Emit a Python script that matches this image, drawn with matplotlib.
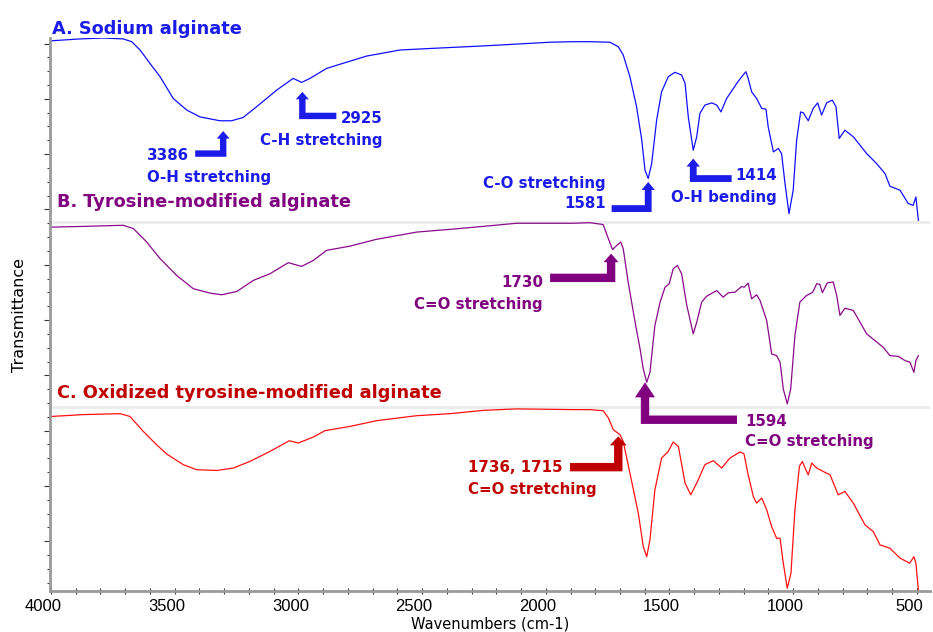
"""
FTIR spectra of sodium alginate, tyrosine-modified alginate and the oxidized
tyrosine-modified alginate, stacked in three bands.
"""
import matplotlib
matplotlib.use('Agg')
import matplotlib.pyplot as plt
import matplotlib.transforms as mtransforms
from matplotlib.patches import Polygon
import numpy as np

# ---- data (transmittance in % of each band) ----
wn_a = [3997, 3883, 3789, 3708, 3674, 3640, 3600, 3559, 3506, 3451, 3398, 3317,
        3270, 3223, 3169, 3088, 3021, 2987, 2953, 2886, 2819, 2724, 2589, 2455,
        2253, 2118, 1983, 1891, 1821, 1741, 1707, 1687, 1660, 1633, 1612, 1599,
        1586, 1572, 1552, 1532, 1505, 1478, 1451, 1437, 1424, 1404, 1390, 1377,
        1357, 1329, 1309, 1292, 1269, 1228, 1208, 1191, 1182, 1168, 1148, 1127,
        1110, 1101, 1080, 1060, 1047, 1033, 1017, 1000, 986, 970, 959, 939, 919,
        901, 885, 865, 842, 827, 814, 791, 757, 703, 663, 629, 609, 568, 535, 515,
        504, 494]
t_a = [98.5, 99.5, 100.0, 99.5, 98.0, 93.5, 86.2, 79.0, 67.2, 60.9, 57.2, 55.1,
       55.1, 56.9, 62.7, 71.7, 78.1, 75.9, 78.1, 83.5, 86.3, 90.2, 93.5, 94.4,
       95.7, 96.7, 97.7, 98.0, 98.0, 97.7, 95.3, 90.8, 79.0, 62.7, 44.6, 28.3,
       23.8, 31.9, 55.4, 70.8, 79.0, 81.4, 79.9, 75.4, 57.2, 39.1, 46.4, 59.1,
       63.6, 64.8, 63.6, 59.9, 67.2, 75.4, 79.0, 81.7, 78.1, 70.8, 67.2, 61.8,
       61.4, 51.8, 38.2, 40.1, 37.3, 21.0, 4.7, 17.4, 44.6, 59.9, 59.4, 55.1, 61.8,
       64.8, 58.2, 64.8, 66.3, 62.7, 45.5, 50.0, 46.4, 37.3, 31.9, 26.5, 19.6, 17.4,
       10.2, 9.2, 13.8, 1.1]

wn_b = [3997, 3869, 3708, 3667, 3613, 3559, 3492, 3425, 3357, 3310, 3249, 3182,
        3115, 3041, 2987, 2940, 2886, 2791, 2684, 2522, 2387, 2253, 2118, 1891,
        1821, 1768, 1747, 1730, 1713, 1697, 1687, 1667, 1639, 1619, 1606, 1592,
        1579, 1559, 1538, 1518, 1501, 1485, 1468, 1451, 1430, 1404, 1390, 1370,
        1350, 1309, 1283, 1262, 1235, 1208, 1198, 1182, 1168, 1148, 1134, 1107,
        1087, 1067, 1053, 1040, 1024, 1010, 993, 973, 946, 921, 905, 892, 882, 862,
        838, 824, 811, 791, 757, 703, 636, 609, 575, 548, 528, 512, 504, 494]
t_b = [97.4, 97.8, 98.4, 96.6, 89.3, 80.3, 71.2, 64.0, 61.6, 60.7, 62.5, 68.5,
       72.1, 78.1, 76.1, 79.3, 84.8, 87.1, 90.8, 94.7, 96.2, 97.8, 99.5, 99.5,
       99.8, 98.8, 91.1, 85.2, 87.5, 89.3, 85.7, 67.6, 45.8, 31.4, 20.5, 13.2,
       18.6, 44.0, 56.7, 64.8, 66.7, 74.8, 76.6, 72.1, 54.9, 39.5, 45.8, 56.7,
       59.9, 63.0, 59.4, 61.8, 62.1, 65.2, 64.8, 67.0, 58.5, 60.7, 57.6, 46.7,
       28.6, 27.7, 24.1, 9.6, 1.5, 9.6, 38.6, 56.7, 60.3, 62.1, 66.7, 66.3, 61.8, 67.2,
       67.6, 60.3, 49.5, 53.4, 52.2, 39.5, 32.2, 27.7, 27.3, 25.0, 24.1, 18.6, 25.0, 27.7]

wn_c = [3997, 3869, 3721, 3681, 3627, 3573, 3532, 3465, 3411, 3330, 3263, 3196,
        3115, 3037, 3000, 2940, 2892, 2791, 2684, 2522, 2387, 2253, 2118, 1891,
        1821, 1768, 1747, 1727, 1700, 1687, 1660, 1626, 1606, 1592, 1579, 1559,
        1532, 1505, 1485, 1464, 1437, 1414, 1390, 1357, 1323, 1289, 1256, 1215,
        1199, 1182, 1161, 1148, 1127, 1107, 1087, 1067, 1053, 1040, 1024, 1009, 993,
        975, 963, 952, 939, 925, 905, 878, 851, 818, 791, 757, 710, 676, 649, 609,
        568, 529, 512, 504, 494]
t_c = [94.7, 95.7, 96.2, 94.7, 86.6, 79.3, 74.3, 68.5, 65.8, 65.4, 66.7, 70.3,
       75.7, 81.5, 80.3, 83.5, 87.0, 89.3, 92.4, 95.1, 96.2, 98.0, 98.8, 98.4,
       98.4, 97.8, 93.9, 87.5, 84.8, 81.1, 64.0, 42.2, 24.1, 18.6, 27.7, 54.9,
       72.1, 75.7, 80.8, 78.4, 58.5, 52.2, 58.5, 68.5, 70.7, 66.7, 72.1, 75.4,
       74.5, 63.0, 51.2, 47.7, 50.4, 44.0, 34.9, 28.6, 28.6, 15.1, 1.5, 9.6, 44.0,
       67.6, 70.3, 66.7, 63.0, 69.4, 66.7, 64.8, 63.0, 52.2, 54.0, 47.7, 35.9, 32.2,
       25.0, 23.2, 17.8, 15.1, 18.6, 15.1, 0.5]

names = ['A. Sodium alginate', 'B. Tyrosine-modified alginate',
         'C. Oxidized tyrosine-modified alginate']
line_colors = ['#1010ff', '#8a0a8a', '#ff1010']
text_colors = ['#1c1ce8', '#800080', '#c00000']
offsets = [200, 100, 0]

# annotations: band, tip wavenumber, tip T, shaft length px, bar end px,
# shaft half width px, head half width px, head height px
arrows = [
    (0, 3304, 49.5, 25.7, -28, 3.2, 6.5, 7.5),
    (0, 2984, 70.8, 27.3, 34, 3.2, 6.5, 7.5),
    (0, 1586, 21.9, 30.0, -36.6, 3.4, 6.7, 8),
    (0, 1404, 34.6, 23.4, 38.4, 3.4, 6.7, 8),
    (1, 1736, 83.0, 28.4, -61, 4.2, 7.5, 8.5),
    (1, 1599, 13.2, 41.6, 92, 4.2, 10, 15),
    (2, 1707, 83.9, 35.0, -48.3, 4.2, 8.5, 9),
]
# label lines: band, wavenumber, T, text, alignment
labels = [
    (0, 3612, 36.4, '3386', 'left'),
    (0, 3612, 24.5, 'O-H stretching', 'left'),
    (0, 2658, 56.5, '2925', 'right'),
    (0, 2658, 44.6, 'C-H stretching', 'right'),
    (0, 1757, 21.2, 'C-O stretching', 'right'),
    (0, 1757, 10.3, '1581', 'right'),
    (0, 1065, 25.5, '1414', 'right'),
    (0, 1065, 13.6, 'O-H bending', 'right'),
    (1, 2011, 67.4, '1730', 'right'),
    (1, 2011, 55.4, 'C=O stretching', 'right'),
    (1, 1195, -8.2, '1594', 'left'),
    (1, 1195, -19.0, 'C=O stretching', 'left'),
    (2, 2314, 66.8, '1736, 1715', 'left'),
    (2, 2314, 54.9, 'C=O stretching', 'left'),
]


def l_arrow(ax, x, y, length, bar, sw, hw, hh, color):
    """Thick L-shaped arrow, tip at (x, y); sizes in pixels."""
    if bar < 0:
        pts = [(0, 0), (hw, hh), (sw, hh), (sw, length), (bar, length),
               (bar, length - 2 * sw), (-sw, length - 2 * sw), (-sw, hh), (-hw, hh)]
    else:
        pts = [(0, 0), (hw, hh), (sw, hh), (sw, length - 2 * sw),
               (bar, length - 2 * sw), (bar, length), (-sw, length), (-sw, hh), (-hw, hh)]
    dpi = ax.figure.dpi
    verts = [(px / dpi, -py / dpi) for px, py in pts]
    trans = ax.figure.dpi_scale_trans + mtransforms.ScaledTranslation(x, y, ax.transData)
    ax.add_patch(Polygon(verts, closed=True, transform=trans, facecolor=color,
                         edgecolor='none', clip_on=False, zorder=5))


fig = plt.figure(figsize=(9.33, 6.32), dpi=100)
ax = fig.add_axes([50 / 933, 41 / 632, 880 / 933, 553 / 632])

for wn, t, off, c in zip([wn_a, wn_b, wn_c], [t_a, t_b, t_c], offsets, line_colors):
    ax.plot(wn, np.array(t) + off, color=c, linewidth=0.9)

for sep in [100, 200]:
    ax.axhline(sep, color='#ebebeb', linewidth=2, zorder=0)

ax.set_xlim(4004, 447)
ax.set_ylim(0, 300)

title_font = dict(family=['DejaVu Sans'], fontweight='bold')
ax.text(3996, 302.2, names[0], color=text_colors[0], fontsize=12.8,
        va='baseline', ha='left', clip_on=False, **title_font)
ax.text(3976, 208.2, names[1], color=text_colors[1], fontsize=12.8,
        va='baseline', ha='left', **title_font)
ax.text(3976, 104.9, names[2], color=text_colors[2], fontsize=12.8,
        va='baseline', ha='left', **title_font)

for band, x, y, length, bar, sw, hw, hh in arrows:
    l_arrow(ax, x, y + offsets[band], length, bar, sw, hw, hh, text_colors[band])

for band, x, y, txt, align in labels:
    ax.text(x, y + offsets[band], txt, color=text_colors[band], fontsize=10.8,
            ha=align, va='center', zorder=6, **title_font)

# axes styling
for side in ['top', 'right']:
    ax.spines[side].set_visible(False)
for side in ['left', 'bottom']:
    ax.spines[side].set_color('#9a9a9a')
    ax.spines[side].set_linewidth(2)

ax.set_xticks([4000, 3500, 3000, 2500, 2000, 1500, 1000, 500])
ax.set_xticks(np.arange(500, 4001, 100), minor=True)
ax.tick_params(axis='x', which='both', direction='inout', length=4, width=0.8,
               color='#333333', labelsize=12)
shift = mtransforms.ScaledTranslation(-8 / 100, 0, fig.dpi_scale_trans)
for lab in ax.get_xticklabels():
    lab.set_fontfamily(['Liberation Sans', 'DejaVu Sans'])
    lab.set_transform(lab.get_transform() + shift)

ax.set_yticks(np.arange(27, 300, 30))
ax.set_yticks(np.arange(4.5, 300, 7.5), minor=True)
ax.tick_params(axis='y', which='major', direction='out', length=4, width=0.8,
               color='#333333', labelleft=False)
ax.tick_params(axis='y', which='minor', direction='out', length=2.5, width=0.8,
               color='#333333')

ax.set_xlabel('Wavenumbers (cm-1)', fontsize=10.5, family='DejaVu Sans', labelpad=2)
fig.text(20 / 933, 1 - 315 / 632, 'Transmittance', rotation=90, fontsize=11.5,
         family='DejaVu Sans', ha='center', va='center')

fig.savefig('out.png', dpi=100)
